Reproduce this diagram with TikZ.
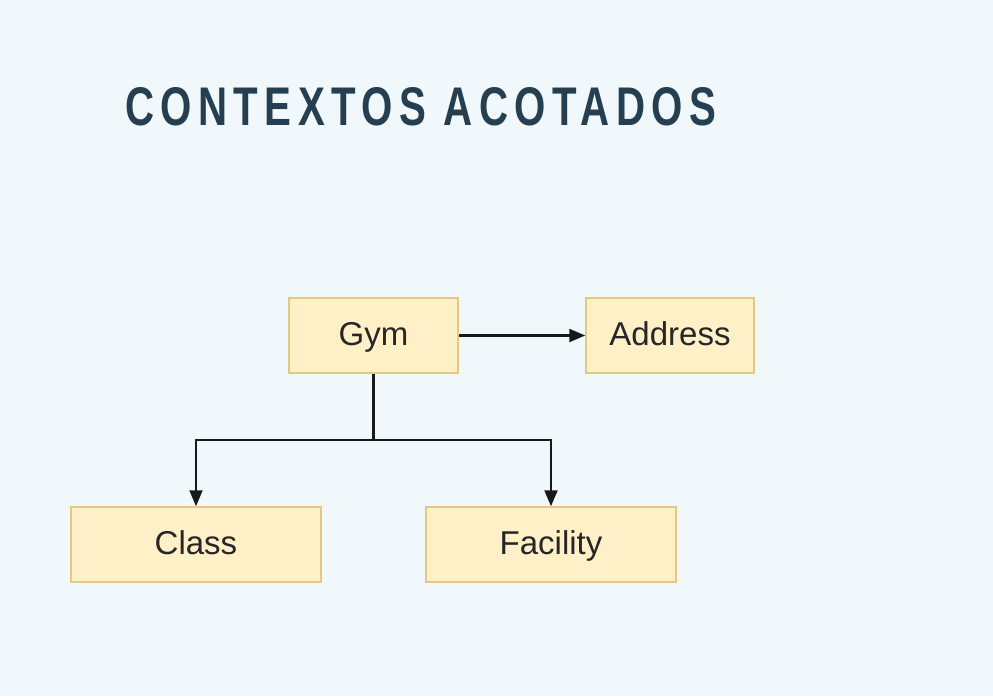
\documentclass[tikz,border=0pt]{standalone}
\usepackage{fontspec}
\setmainfont{Liberation Sans}
\usetikzlibrary{arrows.meta}
\definecolor{bg}{HTML}{F0F8FC}
\definecolor{boxfill}{HTML}{FFF0C8}
\definecolor{boxline}{HTML}{E6C97E}
\definecolor{titlecol}{HTML}{253F51}
\begin{document}
\begin{tikzpicture}[x=1pt,y=-1pt,
  entity/.style={draw=boxline,fill=boxfill,line width=1.5pt,minimum height=75pt,inner sep=0pt,
    text height=24pt,text depth=5pt,font=\fontsize{33}{38}\selectfont,text=black!85},
  conn/.style={line width=2.2pt,black!90},
  tip/.style={-{Triangle[length=16pt,width=13pt]}}]
\fill[bg] (0,0) rectangle (993,696);
\useasboundingbox (0,0) rectangle (993,696);
\node[anchor=south west,inner sep=0pt,text=titlecol] (title) at (125,126)
  {\resizebox{591pt}{38pt}{\addfontfeatures{LetterSpace=16}\bfseries CONTEXTOS ACOTADOS}};
\node[entity,minimum width=169pt] (gym) at (373.5,335.5) {Gym};
\node[entity,minimum width=168pt] (addr) at (670,335.5) {Address};
\node[entity,minimum width=250pt] (class) at (196,544.5) {Class};
\node[entity,minimum width=250pt] (fac) at (551,544.5) {Facility};
\coordinate (j) at (373.5,440);
\draw[conn,tip] (gym) -- (addr);
\draw[conn] (gym.south) -- (j);
\draw[conn,tip] (j) -| (class.north);
\draw[conn,tip] (j) -| (fac.north);
\end{tikzpicture}
\end{document}
